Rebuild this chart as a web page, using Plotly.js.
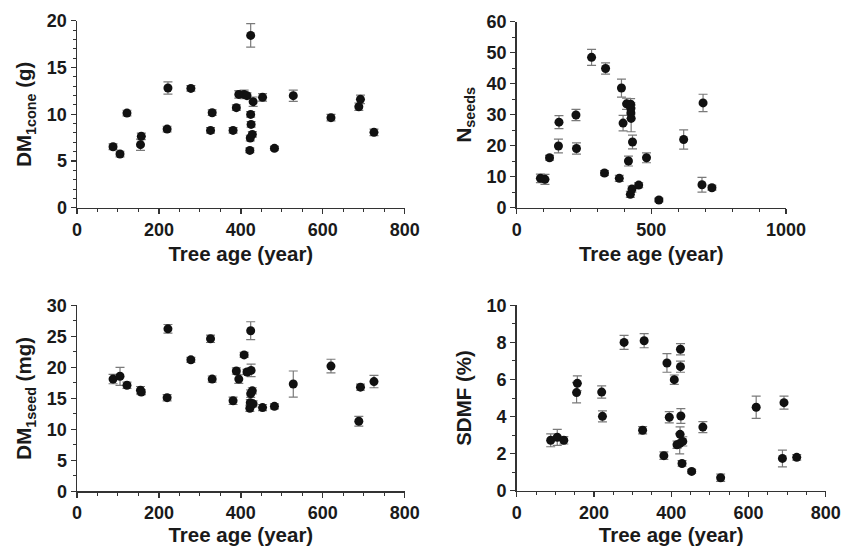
<!DOCTYPE html>
<html>
<head>
<meta charset="utf-8">
<script src="https://cdn.plot.ly/plotly-3.0.1.min.js"></script>
<style>html,body{margin:0;padding:0;background:#fff}#chart{width:851px;height:546px}</style>
</head>
<body>
<div id="chart"></div>
<script>
// Tree ages (years), shared by all four panels
const ages = [88,105,122,155,157,220,222,278,326,330,381,389,395,408,415,422,423,424,424,425,428,430,453,482,528,620,688,692,725];

// Panel a: dry mass of one cone (g)
const dmCone    = [6.52,5.74,10.12,6.74,7.63,8.41,12.8,12.76,8.27,10.16,8.27,10.7,12.12,12.12,11.98,6.13,7.45,18.43,9.98,8.91,7.84,11.34,11.8,6.35,11.98,9.63,10.8,11.59,8.06];
const dmConeErr = [0.3,0.3,0.3,0.6,0.35,0.3,0.66,0.3,0.3,0.3,0.3,0.3,0.4,0.45,0.3,0.25,0.3,1.25,0.3,0.3,0.3,0.5,0.4,0.2,0.6,0.35,0.4,0.45,0.35];

// Panel b: number of seeds
const nSeeds    = [9.46,9.14,16.1,19.9,27.6,29.9,19.1,48.5,11.2,44.9,9.46,38.6,27.3,33.5,15.05,4.3,33.4,32.0,30.6,28.8,6.0,21.2,7.3,16.1,2.47,22.0,7.4,33.8,6.45];
const nSeedsErr = [1.4,1.6,0.8,2.2,2.1,1.8,1.8,2.6,0.8,1.8,1.0,2.9,2.5,1.8,1.6,1.0,1.8,1.8,1.8,4.3,1.0,2.2,0.8,1.6,0.6,3.1,2.4,2.8,0.8];

// Panel c: dry mass of one seed (mg)
const dmSeed    = [18.1,18.55,17.1,16.3,16.0,15.1,26.2,21.2,24.6,18.1,14.6,19.4,18.1,22.0,19.25,13.4,14.3,25.9,15.75,19.5,16.2,14.1,13.5,13.7,17.3,20.2,11.3,16.8,17.7];
const dmSeedErr = [0.75,1.45,0.5,0.6,0.4,0.5,0.7,0.4,0.6,0.5,0.6,0.5,0.7,0.4,0.4,0.5,0.5,1.45,0.6,1.0,0.5,0.5,0.5,0.4,2.1,1.1,0.8,0.5,1.0];

// Panel d: SDMF (%)
const sdmf      = [2.72,2.88,2.72,5.29,5.79,5.32,4.01,8.0,3.26,8.09,1.89,6.89,3.96,5.99,2.48,2.54,3.04,7.63,6.69,4.03,1.47,2.66,1.04,3.43,0.70,4.5,1.74,4.75,1.8];
const sdmfErr   = [0.35,0.43,0.2,0.55,0.4,0.33,0.3,0.38,0.2,0.38,0.2,0.5,0.3,0.25,0.2,0.55,0.4,0.3,0.3,0.4,0.15,0.25,0.1,0.3,0.2,0.6,0.45,0.35,0.15];

const xTitle = 'Tree age (year)';
const yTitles = ['DM<sub>1cone</sub> (g)', 'N<sub>seeds</sub>', 'DM<sub>1seed</sub> (mg)', 'SDMF (%)'];

const W = 851, H = 546;
const FONT = 'Liberation Sans, Arial, Helvetica, sans-serif';
const INK = '#1a1a1a';

function trace(y, err, xa, ya) {
  return {
    type: 'scatter', mode: 'markers', x: ages, y: y,
    xaxis: xa, yaxis: ya, showlegend: false,
    marker: {color: '#111', size: 9},
    error_y: {type: 'data', array: err, visible: true, color: '#7a7a7a', thickness: 1.2, width: 4.5}
  };
}

const data = [
  trace(dmCone, dmConeErr, 'x', 'y'),
  trace(nSeeds, nSeedsErr, 'x2', 'y2'),
  trace(dmSeed, dmSeedErr, 'x3', 'y3'),
  trace(sdmf, sdmfErr, 'x4', 'y4')
];

function xd(l, r) { return [l / W, r / W]; }
function yd(t, b) { return [1 - b / H, 1 - t / H]; }

function xaxis(dom, anchor, range, dtick, minor) {
  return {
    domain: dom, anchor: anchor, range: range, dtick: dtick, tick0: 0,
    showgrid: false, zeroline: false, showline: true, linecolor: '#333', linewidth: 1.5,
    ticks: 'outside', ticklen: 5, tickwidth: 1.3, tickcolor: '#333',
    minor: {dtick: minor, ticks: 'outside', ticklen: 3, tickwidth: 1, tickcolor: '#333', showgrid: false},
    tickfont: {family: FONT, size: 18, color: INK, weight: 'bold'},
    title: {text: xTitle, standoff: 8, font: {family: FONT, size: 20.5, color: INK, weight: 'bold'}},
    fixedrange: true
  };
}
function yaxis(dom, anchor, range, dtick, minor, title) {
  return {
    domain: dom, anchor: anchor, range: range, dtick: dtick, tick0: 0,
    showgrid: false, zeroline: false, showline: true, linecolor: '#333', linewidth: 1.5,
    ticks: 'outside', ticklen: 5, tickwidth: 1.3, tickcolor: '#333',
    minor: {dtick: minor, ticks: 'outside', ticklen: 3, tickwidth: 1, tickcolor: '#333', showgrid: false},
    tickfont: {family: FONT, size: 18, color: INK, weight: 'bold'},
    title: {text: title, standoff: 9, font: {family: FONT, size: 20.5, color: INK, weight: 'bold'}},
    fixedrange: true
  };
}

const layout = {
  width: W, height: H,
  margin: {l: 0, r: 0, t: 0, b: 0},
  paper_bgcolor: '#fff', plot_bgcolor: '#fff',
  xaxis:  xaxis(xd(77, 404.7), 'y', [0, 800], 200, 50),
  yaxis:  yaxis(yd(20.7, 207.7), 'x', [0, 20], 5, 1, yTitles[0]),
  xaxis2: xaxis(xd(516.7, 786), 'y2', [0, 1000], 500, 100),
  yaxis2: yaxis(yd(21.7, 207.7), 'x2', [0, 60], 10, 5, yTitles[1]),
  xaxis3: xaxis(xd(77, 404.7), 'y3', [0, 800], 200, 50),
  yaxis3: yaxis(yd(305.3, 491.3), 'x3', [0, 30], 5, 2.5, yTitles[2]),
  xaxis4: xaxis(xd(516.7, 825.7), 'y4', [0, 800], 200, 50),
  yaxis4: yaxis(yd(305.3, 490.7), 'x4', [0, 10], 2, 1, yTitles[3])
};

Plotly.newPlot('chart', data, layout, {displayModeBar: false, staticPlot: true});
</script>
</body>
</html>
